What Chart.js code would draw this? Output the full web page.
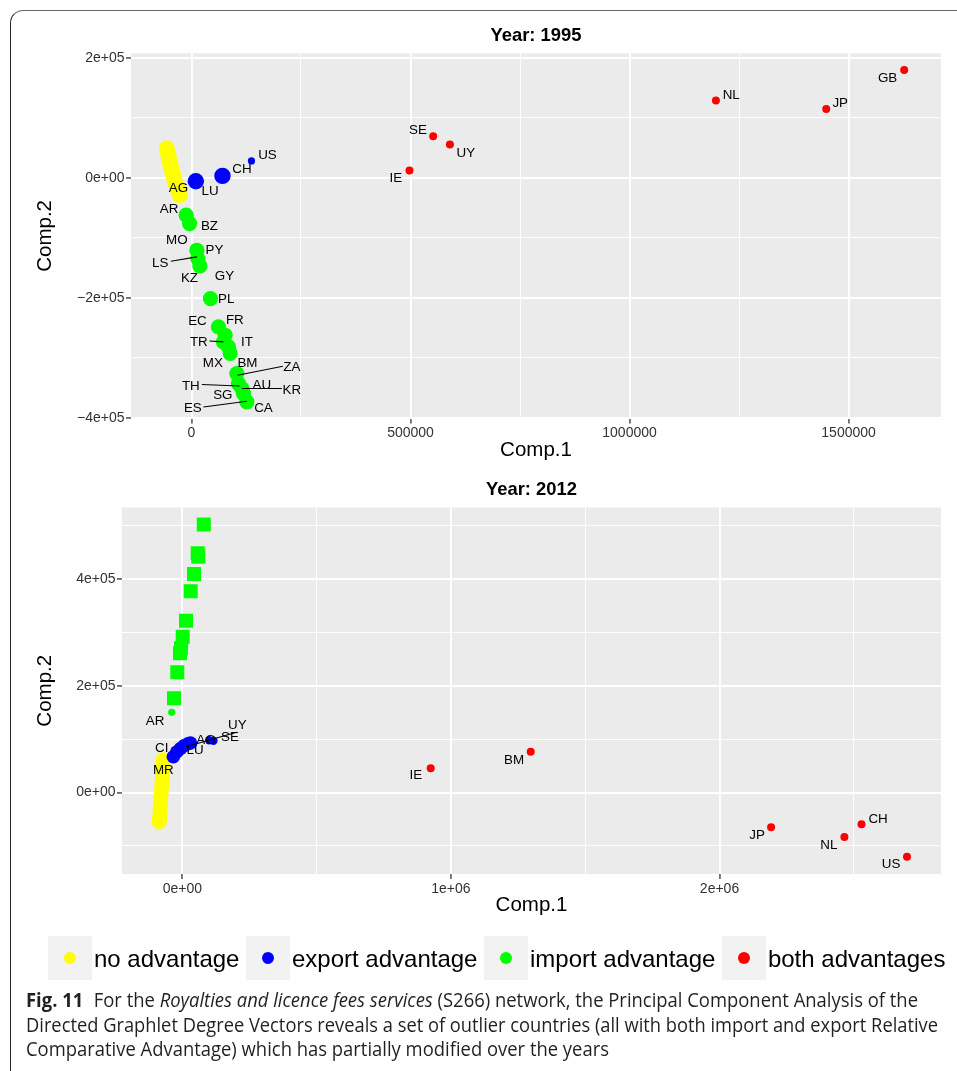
<!DOCTYPE html>
<html>
<head>
<meta charset="utf-8">
<script src="https://cdn.jsdelivr.net/npm/chart.js@4.4.1/dist/chart.umd.min.js"></script>
<style>
  body { margin:0; background:#fff; width:957px; height:1071px; overflow:hidden; position:relative;
         font-family:"Liberation Sans", Arial, sans-serif; }
  canvas { position:absolute; left:0; }
  #c1 { top:0; }
  #c2 { top:466px; }
  #frame { position:absolute; left:10px; top:10px; width:980px; height:1100px;
           border-left:1.6px solid #222; border-top:1.4px solid #666; border-top-left-radius:13px; pointer-events:none; }
  #legend { position:absolute; left:48px; top:936px; height:44px; display:flex; align-items:center; }
  .key { width:44px; height:44px; background:#F2F2F2; position:relative; }
  .key span { position:absolute; left:16px; top:16px; width:12px; height:12px; border-radius:50%; }
  .lab { font-size:24px; line-height:44px; padding-top:2px; margin:0 6.5px 0 2px; color:#000; white-space:nowrap; }
  .cap { position:absolute; left:26px; font-family:"Open Sans", "Noto Sans", sans-serif; font-size:19.5px;
         line-height:20px; color:#231F20; white-space:nowrap; transform-origin:0 50%; }
  .cap b { margin-right:6px; }
</style>
</head>
<body>
<canvas id="c1" width="957" height="466"></canvas>
<canvas id="c2" width="957" height="460"></canvas>
<div id="frame"></div>

<div id="legend">
  <div class="key"><span style="background:#FFFF00"></span></div><div class="lab">no advantage</div>
  <div class="key"><span style="background:#0000FF"></span></div><div class="lab">export advantage</div>
  <div class="key"><span style="background:#00FF00"></span></div><div class="lab">import advantage</div>
  <div class="key"><span style="background:#FF0000"></span></div><div class="lab">both advantages</div>
</div>

<div class="cap" id="l1" style="top:990px" data-w="892"><b>Fig. 11</b> For the <i>Royalties and licence fees services</i> (S266) network, the Principal Component Analysis of the</div>
<div class="cap" id="l2" style="top:1014.5px" data-w="912">Directed Graphlet Degree Vectors reveals a set of outlier countries (all with both import and export Relative</div>
<div class="cap" id="l3" style="top:1039px" data-w="583">Comparative Advantage) which has partially modified over the years</div>

<script>
// ---- Year 1995 ----
const noAdv95X = [-56000, -54500, -53000, -51500, -50000, -48000, -46000, -44000, -42000, -40000, -37500, -35000, -32000, -29500, -27000];
const noAdv95Y = [49000, 44000, 38500, 33000, 27500, 21500, 16000, 10500, 5000, -500, -6500, -12000, -17500, -23500, -29000];
const expBig95X = [10000, 70800];
const expBig95Y = [-5800, 3000];
const expSmall95X = [137000];
const expSmall95Y = [28000];
const imp95X = [-12100, -4300, 12300, 14600, 19200, 43400, 61600, 76900, 73100, 84500, 88400, 103600, 107300, 115000, 118700, 126500];
const imp95Y = [-62500, -76400, -120900, -134700, -147000, -201400, -248700, -262600, -273700, -282000, -293000, -326400, -343100, -351400, -359800, -373700];
const both95X = [497700, 551800, 590000, 1197200, 1449000, 1627000];
const both95Y = [12000, 69200, 55300, 128700, 114700, 179700];

const names95 = ["US", "CH", "AG", "LU", "AR", "BZ", "MO", "PY", "LS", "KZ", "GY", "PL", "EC", "FR", "TR", "IT", "MX", "BM", "ZA", "TH", "AU", "KR", "SG", "ES", "CA", "SE", "UY", "IE", "NL", "JP", "GB"];
const nameX95 = [173500, 115100, -29700, 42700, -50900, 41100, -33300, 52500, -71500, -4600, 75300, 79200, 13700, 99100, 16900, 126500, 48900, 127800, 229200, -1400, 160700, 229200, 71700, 3200, 164400, 516900, 626500, 466600, 1232100, 1481000, 1589000];
const nameY95 = [38700, 15300, -15300, -20800, -51300, -79200, -103000, -119700, -140400, -165400, -162500, -200400, -237500, -236400, -272500, -272100, -308100, -307100, -314200, -345900, -344200, -353100, -361400, -383100, -383100, 80800, 42500, 1300, 138700, 125400, 167000];
// leader segments (from label to point)
const seg95X1 = [-47000, 41100, 208700, 23700, 206400, 27400];
const seg95Y1 = [-139200, -272100, -314200, -344700, -351400, -382100];
const seg95X2 = [12300, 73100, 105000, 109600, 115100, 126500];
const seg95Y2 = [-132000, -273700, -329200, -347100, -351400, -372600];

const xTicks95 = [0, 500000, 1000000, 1500000];
const xTickLabels95 = ["0", "500000", "1000000", "1500000"];
const xMinor95 = [250000, 750000, 1250000];
const yTicks95 = [-400000, -200000, 0, 200000];
const yTickLabels95 = ["\u22124e+05", "\u22122e+05", "0e+00", "2e+05"];
const yMinor95 = [-300000, -100000, 100000];

// ---- Year 2012 ----
const noAdv12X = [-70500, -71500, -72500, -74000, -75500, -77000, -78500, -80000, -81500, -83000, -84500, -85600];
const noAdv12Y = [61000, 51000, 41000, 30000, 19000, 8000, -3000, -14000, -25000, -36000, -46000, -54700];
const expBig12X = [-33500, -20800, -6700, 6300, 21200, 30500];
const expBig12Y = [67100, 75900, 82400, 87700, 91400, 92700];
const expSmall12X = [100000, 116000];
const expSmall12Y = [98000, 97000];
const impSq12X = [80000, 57300, 59600, 43600, 31300, 13800, 1500, -4800, -8600, -18600, -30900];
const impSq12Y = [502000, 448000, 441700, 409300, 376800, 321800, 291800, 270100, 260700, 225100, 176400];
const impSmall12X = [-39500];
const impSmall12Y = [150200];
const both12X = [924800, 1297100, 2192000, 2465000, 2528600, 2698000];
const both12Y = [45300, 76400, -65200, -83300, -59600, -120200];

const names12 = ["AR", "CI", "MR", "LU", "AG", "SE", "UY", "IE", "BM", "JP", "CH", "NL", "US"];
const nameX12 = [-101600, -76700, -70700, 47300, 88200, 177600, 204800, 869700, 1234900, 2139600, 2590400, 2407300, 2638800];
const nameY12 = [135800, 85800, 44000, 80900, 99600, 106400, 127700, 34100, 62200, -78300, -47200, -97000, -132600];
const seg12X1 = [13800];
const seg12Y1 = [85800];
const seg12X2 = [202500];
const seg12Y2 = [112800];

const xTicks12 = [0, 1000000, 2000000];
const xTickLabels12 = ["0e+00", "1e+06", "2e+06"];
const xMinor12 = [500000, 1500000, 2500000];
const yTicks12 = [0, 200000, 400000];
const yTickLabels12 = ["0e+00", "2e+05", "4e+05"];
const yMinor12 = [-100000, 100000, 300000, 500000];

const FONT = '"Liberation Sans", Arial, sans-serif';
const YELLOW = "#FFFF00", BLUE = "#0000FF", GREEN = "#00FF00", RED = "#FF0000";

function pts(xs, ys) { return xs.map((x, i) => ({x: x, y: ys[i]})); }

function series(xs, ys, color, r, style) {
  return { data: pts(xs, ys), backgroundColor: color, borderWidth: 0, pointBorderWidth: 0,
           pointRadius: r, pointHoverRadius: r, pointStyle: style || "circle" };
}

function axis(min, max, majors, labels, minors, title, fit, titlePad) {
  const all = majors.concat(minors).sort((a, b) => a - b);
  const isMajor = c => c.tick && majors.includes(c.tick.value);
  return {
    type: "linear", min: min, max: max,
    afterBuildTicks: s => { s.ticks = all.map(v => ({value: v})); },
    afterFit: fit,
    border: { display: false },
    grid: {
      color: "#FFFFFF",
      lineWidth: c => isMajor(c) ? 1.9 : 0.95,
      tickColor: c => isMajor(c) ? "#333333" : "rgba(0,0,0,0)",
      tickWidth: 1.3,
      tickLength: 5,
      drawTicks: true
    },
    ticks: {
      autoSkip: false, maxRotation: 0, padding: 1.5,
      color: "#333333", font: { family: FONT, size: 14 },
      callback: v => { const i = majors.indexOf(v); return i >= 0 ? labels[i] : ""; }
    },
    title: { display: true, text: title, color: "#000", font: { family: FONT, size: 20.5 }, padding: titlePad }
  };
}

const panelBg = {
  id: "panelBg",
  beforeDraw(chart) {
    const {ctx, chartArea: a} = chart;
    ctx.save();
    ctx.fillStyle = "#EBEBEB";
    ctx.fillRect(a.left, a.top, a.right - a.left, a.bottom - a.top);
    ctx.restore();
  }
};

const panelTitle = {
  id: "panelTitle",
  afterDraw(chart, args, opts) {
    const {ctx, chartArea: a} = chart;
    ctx.save();
    ctx.font = "bold 18.4px " + FONT;
    ctx.fillStyle = "#000";
    ctx.textAlign = "center";
    ctx.textBaseline = "alphabetic";
    ctx.fillText(opts.text, (a.left + a.right) / 2, a.top - 19 + 0.36 * 18.4);
    ctx.restore();
  }
};

const countryLabels = {
  id: "countryLabels",
  afterDatasetsDraw(chart, args, opts) {
    const {ctx} = chart;
    const x = chart.scales.x, y = chart.scales.y;
    ctx.save();
    ctx.strokeStyle = "#000";
    ctx.lineWidth = 1.1;
    opts.sx1.forEach((v, i) => {
      ctx.beginPath();
      ctx.moveTo(x.getPixelForValue(v), y.getPixelForValue(opts.sy1[i]));
      ctx.lineTo(x.getPixelForValue(opts.sx2[i]), y.getPixelForValue(opts.sy2[i]));
      ctx.stroke();
    });
    ctx.font = "13.4px " + FONT;
    ctx.fillStyle = "#000";
    ctx.textAlign = "center";
    ctx.textBaseline = "alphabetic";
    opts.names.forEach((n, i) => {
      ctx.fillText(n, x.getPixelForValue(opts.xs[i]), y.getPixelForValue(opts.ys[i]) + 0.36 * 13.4);
    });
    ctx.restore();
  }
};

function makeChart(id, cfg) {
  return new Chart(document.getElementById(id), {
    type: "scatter",
    data: { datasets: cfg.datasets },
    plugins: [panelBg, panelTitle, countryLabels],
    options: {
      responsive: false, animation: false, events: [],
      layout: { padding: { left: 0, top: cfg.top, right: 16, bottom: 0 } },
      scales: { x: cfg.x, y: cfg.y },
      plugins: {
        legend: { display: false }, tooltip: { enabled: false },
        panelTitle: { text: cfg.title },
        countryLabels: cfg.labels
      }
    }
  });
}

makeChart("c1", {
  title: "Year: 1995",
  top: 53.3,
  datasets: [
    series(both95X, both95Y, RED, 4),
    series(imp95X, imp95Y, GREEN, 7.6),
    series(expSmall95X, expSmall95Y, BLUE, 3.6),
    series(expBig95X, expBig95Y, BLUE, 8.2),
    series(noAdv95X, noAdv95Y, YELLOW, 8)
  ],
  x: axis(-138000, 1711000, xTicks95, xTickLabels95, xMinor95, "Comp.1",
          s => { s.height = 47.5; }, { top: 0, bottom: 3.7 }),
  y: axis(-401400, 207400, yTicks95, yTickLabels95, yMinor95, "Comp.2",
          s => { s.width = 131; }, { top: 32.7, bottom: 0 }),
  labels: { names: names95, xs: nameX95, ys: nameY95, sx1: seg95X1, sy1: seg95Y1, sx2: seg95X2, sy2: seg95Y2 }
});

makeChart("c2", {
  title: "Year: 2012",
  top: 41.5,
  datasets: [
    series(both12X, both12Y, RED, 4),
    series(impSmall12X, impSmall12Y, GREEN, 3.6),
    series(impSq12X, impSq12Y, GREEN, 9.9, "rect"),
    series(expSmall12X, expSmall12Y, BLUE, 4.2),
    series(expBig12X, expBig12Y, BLUE, 6.8),
    series(noAdv12X, noAdv12Y, YELLOW, 7.6)
  ],
  x: axis(-224500, 2824600, xTicks12, xTickLabels12, xMinor12, "Comp.1",
          s => { s.height = 52; }, { top: 0, bottom: 8.7 }),
  y: axis(-152600, 533800, yTicks12, yTickLabels12, yMinor12, "Comp.2",
          s => { s.width = 122; }, { top: 32.7, bottom: 0 }),
  labels: { names: names12, xs: nameX12, ys: nameY12, sx1: seg12X1, sy1: seg12Y1, sx2: seg12X2, sy2: seg12Y2 }
});

// squeeze caption lines to the measured widths of the printed figure
document.querySelectorAll(".cap").forEach(el => {
  const w = el.getBoundingClientRect().width;
  el.style.transform = "scaleX(" + (parseFloat(el.dataset.w) / w) + ")";
});
</script>
</body>
</html>
